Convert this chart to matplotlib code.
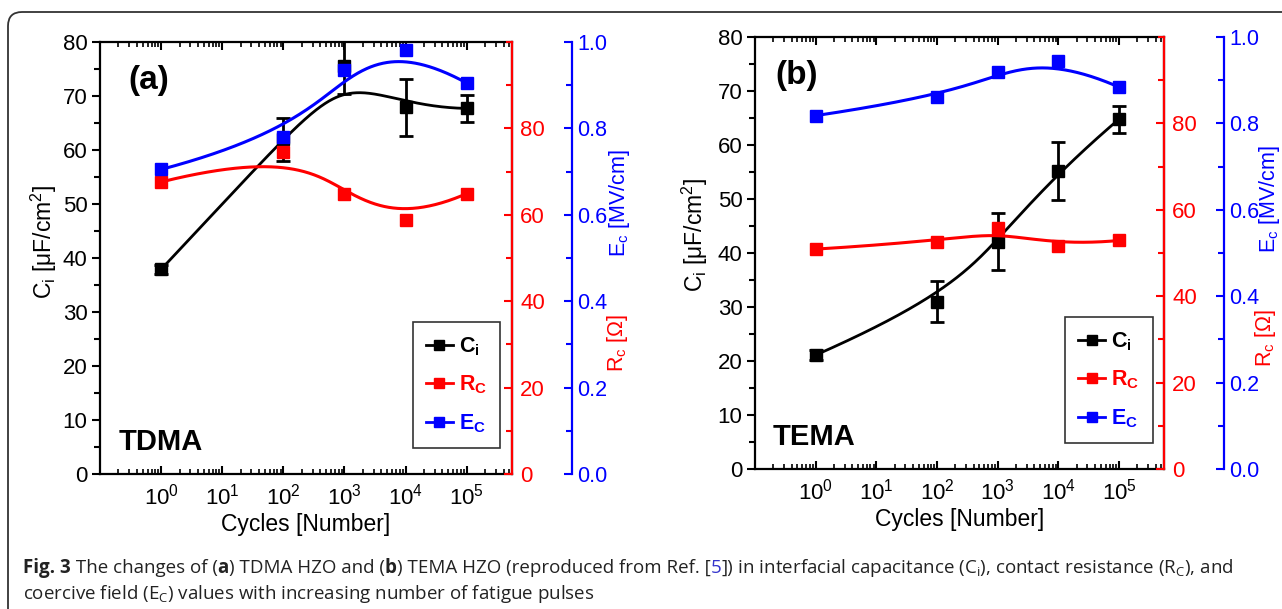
import numpy as np
import matplotlib
matplotlib.use("Agg")
import matplotlib.pyplot as plt
import matplotlib.ticker as mticker
from matplotlib.lines import Line2D
from matplotlib.patches import FancyBboxPatch

plt.rcParams['font.family'] = ['Liberation Sans', 'DejaVu Sans']
plt.rcParams['mathtext.default'] = 'regular'

RED = "#FF0000"
BLUE = "#0000FF"
BLACK = "#000000"

cycles = [1, 1e2, 1e3, 1e4, 1e5]

# (a) TDMA HZO
tdma_ci = [37.9, 62.0, 75.6, 67.9, 67.7]
tdma_ci_err = [0.8, 4.0, 5.3, 5.3, 2.5]
tdma_rc = [67.6, 74.6, 64.8, 58.8, 64.9]
tdma_ec = [0.705, 0.780, 0.935, 0.982, 0.905]

# (b) TEMA HZO
tema_ci = [21.1, 31.0, 42.1, 55.2, 64.8]
tema_ci_err = [0.9, 3.8, 5.3, 5.3, 2.5]
tema_rc = [50.9, 52.6, 55.9, 51.6, 52.9]
tema_ec = [0.818, 0.860, 0.919, 0.945, 0.884]

TICK_FS = 16
LABEL_FS = 16.5


def bspline(xs, ys, n=300, k=3):
    # clamped B-spline with the data points as control points (Origin style)
    P = np.column_stack([np.log10(xs), ys])
    m = len(P)
    knots = np.concatenate([np.zeros(k), np.linspace(0, 1, m - k + 1), np.ones(k)])
    t = np.linspace(0, 1, n)
    N = np.zeros((len(knots) - 1, n))
    for i in range(len(knots) - 1):
        N[i] = (knots[i] <= t) & (t < knots[i + 1])
    last = np.max(np.where(knots[:-1] < knots[1:])[0])
    N[last, t >= 1] = 1
    for p in range(1, k + 1):
        Nn = np.zeros((len(knots) - 1 - p, n))
        for i in range(len(knots) - 1 - p):
            d1 = knots[i + p] - knots[i]
            d2 = knots[i + p + 1] - knots[i + 1]
            a = (t - knots[i]) / d1 * N[i] if d1 > 0 else 0
            b = (knots[i + p + 1] - t) / d2 * N[i + 1] if d2 > 0 else 0
            Nn[i] = a + b
        N = Nn
    c = N.T @ P
    return 10 ** c[:, 0], c[:, 1]


def panel(rect, ci, ci_err, rc, ec, tag, name):
    ax = fig.add_axes(rect)
    ax_r = ax.twinx()
    ax_e = ax.twinx()
    ax_e.spines['right'].set_position(('outward', 43))

    ax.set_xscale('log')
    ax.set_xlim(0.1, 5.5e5)
    ax.set_ylim(0, 80)
    ax_r.set_ylim(0, 100)
    ax_e.set_ylim(0, 1.0)

    # data
    sx, sy = bspline(cycles, ci)
    ax.plot(sx, sy, color=BLACK, lw=2)
    ax.errorbar(cycles, ci, yerr=ci_err, fmt='s', color=BLACK, ms=9,
                elinewidth=2, capsize=5, capthick=2)
    sx, sy = bspline(cycles, rc)
    ax_r.plot(sx, sy, color=RED, lw=2.2)
    ax_r.plot(cycles, rc, 's', color=RED, ms=9)
    sx, sy = bspline(cycles, ec)
    ax_e.plot(sx, sy, color=BLUE, lw=2.2)
    ax_e.plot(cycles, ec, 's', color=BLUE, ms=9)

    # x axis
    ax.set_xticks([1, 1e1, 1e2, 1e3, 1e4, 1e5])
    ax.xaxis.set_major_formatter(mticker.LogFormatterMathtext())
    ax.xaxis.set_minor_locator(mticker.LogLocator(base=10, subs=np.arange(2, 10), numticks=20))
    ax.xaxis.set_minor_formatter(mticker.NullFormatter())
    ax.tick_params(axis='x', which='both', direction='in', top=True, labelsize=TICK_FS, pad=7)
    ax.tick_params(axis='x', which='major', length=6, width=1.5)
    ax.tick_params(axis='x', which='minor', length=3.5, width=1.2)

    # left axis
    ax.yaxis.set_major_locator(mticker.MultipleLocator(10))
    ax.yaxis.set_minor_locator(mticker.MultipleLocator(5))
    ax.tick_params(axis='y', which='both', direction='out', labelsize=TICK_FS, width=1.5, pad=3)
    ax.tick_params(axis='y', which='major', length=6)
    ax.tick_params(axis='y', which='minor', length=4)

    # red axis
    ax_r.set_yticks([0, 20, 40, 60, 80])
    ax_r.yaxis.set_minor_locator(mticker.MultipleLocator(10))
    ax_r.tick_params(axis='y', which='both', colors=RED, direction='in', labelsize=TICK_FS, width=1.5, pad=6)
    ax_r.tick_params(axis='y', which='major', length=6)
    ax_r.tick_params(axis='y', which='minor', length=4)

    # blue axis
    ax_e.set_yticks([0, 0.2, 0.4, 0.6, 0.8, 1.0])
    ax_e.yaxis.set_major_formatter(mticker.FormatStrFormatter('%.1f'))
    ax_e.yaxis.set_minor_locator(mticker.MultipleLocator(0.1))
    ax_e.tick_params(axis='y', which='both', colors=BLUE, direction='in', labelsize=15.5, width=1.5, pad=4)
    ax_e.tick_params(axis='y', which='major', length=6)
    ax_e.tick_params(axis='y', which='minor', length=4)

    for s in ax.spines.values():
        s.set_linewidth(1.6)
    for a, col in ((ax_r, RED), (ax_e, BLUE)):
        for k in ('left', 'top', 'bottom'):
            a.spines[k].set_visible(False)
        a.spines['right'].set_color(col)
        a.spines['right'].set_linewidth(1.6)

    # texts
    ax.text(0.5, -0.118, 'Cycles [Number]', transform=ax.transAxes,
            ha='center', va='center', fontsize=LABEL_FS)
    ax.text(tag[1], 0.91, tag[0], transform=ax.transAxes, ha='left', va='center',
            fontsize=24, fontweight='bold')
    ax.text(0.044, 0.055, name, transform=ax.transAxes, ha='left', va='baseline',
            fontsize=21, fontweight='bold')

    handles = [Line2D([], [], color=BLACK, marker='s', ms=7, lw=2),
               Line2D([], [], color=RED, marker='s', ms=7, lw=2),
               Line2D([], [], color=BLUE, marker='s', ms=7, lw=2)]
    leg = ax_e.legend(handles, ['C$_i$', 'R$_C$', 'E$_C$'], loc='lower right',
                      bbox_to_anchor=(0.972, 0.06), borderaxespad=0,
                      frameon=True, fancybox=False,
                      edgecolor=BLACK, handlelength=1.25, handletextpad=0.3,
                      labelspacing=0.75, borderpad=0.6,
                      prop={'weight': 'bold', 'size': 15.5})
    leg.get_frame().set_linewidth(1.2)
    for txt, col in zip(leg.get_texts(), (BLACK, RED, BLUE)):
        txt.set_color(col)
    return ax


W, H = 1282, 609
fig = plt.figure(figsize=(W / 100, H / 100), dpi=100)

ax_a = panel([100 / W, 1 - 474 / H, 412 / W, 432 / H],
             tdma_ci, tdma_ci_err, tdma_rc, tdma_ec, ('(a)', 0.068), 'TDMA')
ax_b = panel([755 / W, 1 - 469 / H, 409 / W, 432 / H],
             tema_ci, tema_ci_err, tema_rc, tema_ec, ('(b)', 0.05), 'TEMA')

# y axis labels
ax_a.text(-0.137, 0.537, 'C$_i$ [μF/cm$^2$]', transform=ax_a.transAxes,
          rotation=90, ha='center', va='center', fontsize=LABEL_FS)
ax_b.text(-0.148, 0.542, 'C$_i$ [μF/cm$^2$]', transform=ax_b.transAxes,
          rotation=90, ha='center', va='center', fontsize=LABEL_FS)
for (xe, ye), (xr, yr) in (((620, 203), (617, 343)), ((1269, 199), (1266, 338))):
    fig.text(xe / W, 1 - ye / H, 'E$_c$ [MV/cm]', rotation=90, ha='center',
             va='center', fontsize=15.5, color=BLUE)
    fig.text(xr / W, 1 - yr / H, 'R$_c$ [Ω]', rotation=90, ha='center',
             va='center', fontsize=15.5, color=RED)

# outer rounded frame
frame = FancyBboxPatch((0.08, -0.4), 13.5, 6.37, boxstyle='round,pad=0,rounding_size=0.14',
                       transform=fig.dpi_scale_trans, fill=False, edgecolor='#333333',
                       linewidth=1.3, clip_on=False)
fig.patches.append(frame)

# caption
renderer = fig.canvas.get_renderer()
CAP = dict(family=['Open Sans', 'DejaVu Sans'], fontsize=13.5, color='#222222', va='baseline')


def caption_line(pieces, x_px, y_px):
    x = x_px / W
    for s, style in pieces:
        kw = dict(CAP)
        if style == 'b':
            kw['fontweight'] = 'bold'
        elif style == 'link':
            kw['color'] = '#3333CC'
        t = fig.text(x, 1 - y_px / H, s, **kw)
        x += t.get_window_extent(renderer).width / W


caption_line([('Fig. 3', 'b'), (' The changes of (', ''), ('a', 'b'), (') TDMA HZO and (', ''),
              ('b', 'b'), (') TEMA HZO (reproduced from Ref. [', ''), ('5', 'link'),
              ('])', ''), (' in interfacial capacitance (C$_i$), contact resistance (R$_C$), and', '')],
             23, 573)
caption_line([('coercive field (E$_C$) values with increasing number of fatigue pulses', '')], 23, 599)

fig.savefig('out.png', dpi=100)
